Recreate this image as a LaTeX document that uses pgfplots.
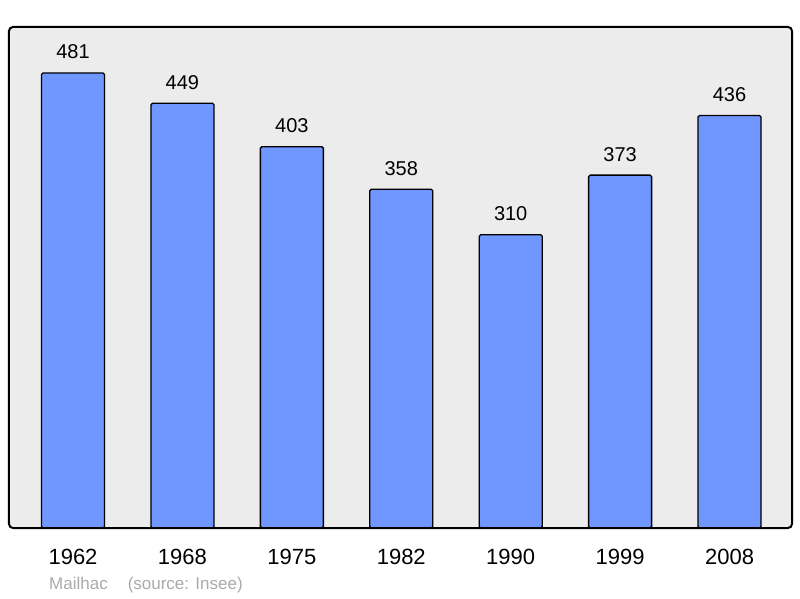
\documentclass[border=0pt]{standalone}
\usepackage{pgfplots}
\pgfplotsset{compat=1.18}
\usepackage{fontspec}
\setmainfont{Liberation Sans}
\definecolor{bgcol}{RGB}{236,236,236}
\definecolor{barcol}{RGB}{112,150,255}
\definecolor{srccol}{RGB}{170,170,170}
\begin{document}
\begin{tikzpicture}[x=1pt,y=1pt]
\useasboundingbox (0,0) rectangle (800,598);
\begin{axis}[
  at={(9pt,70pt)}, anchor=south west,
  scale only axis, width=783pt, height=501pt,
  xmin=-0.585, xmax=6.571, ymin=0, ymax=529.6,
  /pgf/number format/assume math mode=true,
  axis line style={draw=none},
  axis background/.style={fill=bgcol},
  ytick=\empty,
  xtick={0,1,2,3,4,5,6},
  xticklabels={1962,1968,1975,1982,1990,1999,2008},
  major tick length=0pt,
  xticklabel style={anchor=base, yshift=-36.5pt, inner sep=0pt, font=\fontsize{22}{22}\selectfont},
  ybar, bar width=63pt,
  nodes near coords,
  nodes near coords style={anchor=base, yshift=14pt, inner sep=0pt, font=\fontsize{20}{20}\selectfont, text=black},
  clip=false,
]
\addplot[fill=barcol, draw=black, line width=1.3pt, rounded corners=1.5pt] coordinates {
  (0,481) (1,449) (2,403) (3,358) (4,310) (5,373) (6,436)
};
\draw[line width=2pt, rounded corners=4pt] (rel axis cs:0,0) rectangle (rel axis cs:1,1);
\end{axis}
\node[anchor=base west, inner sep=0pt, text=srccol, font=\fontsize{17}{17}\selectfont] at (49,9) {Mailhac\hspace{20pt}(source: Insee)};
\end{tikzpicture}
\end{document}
